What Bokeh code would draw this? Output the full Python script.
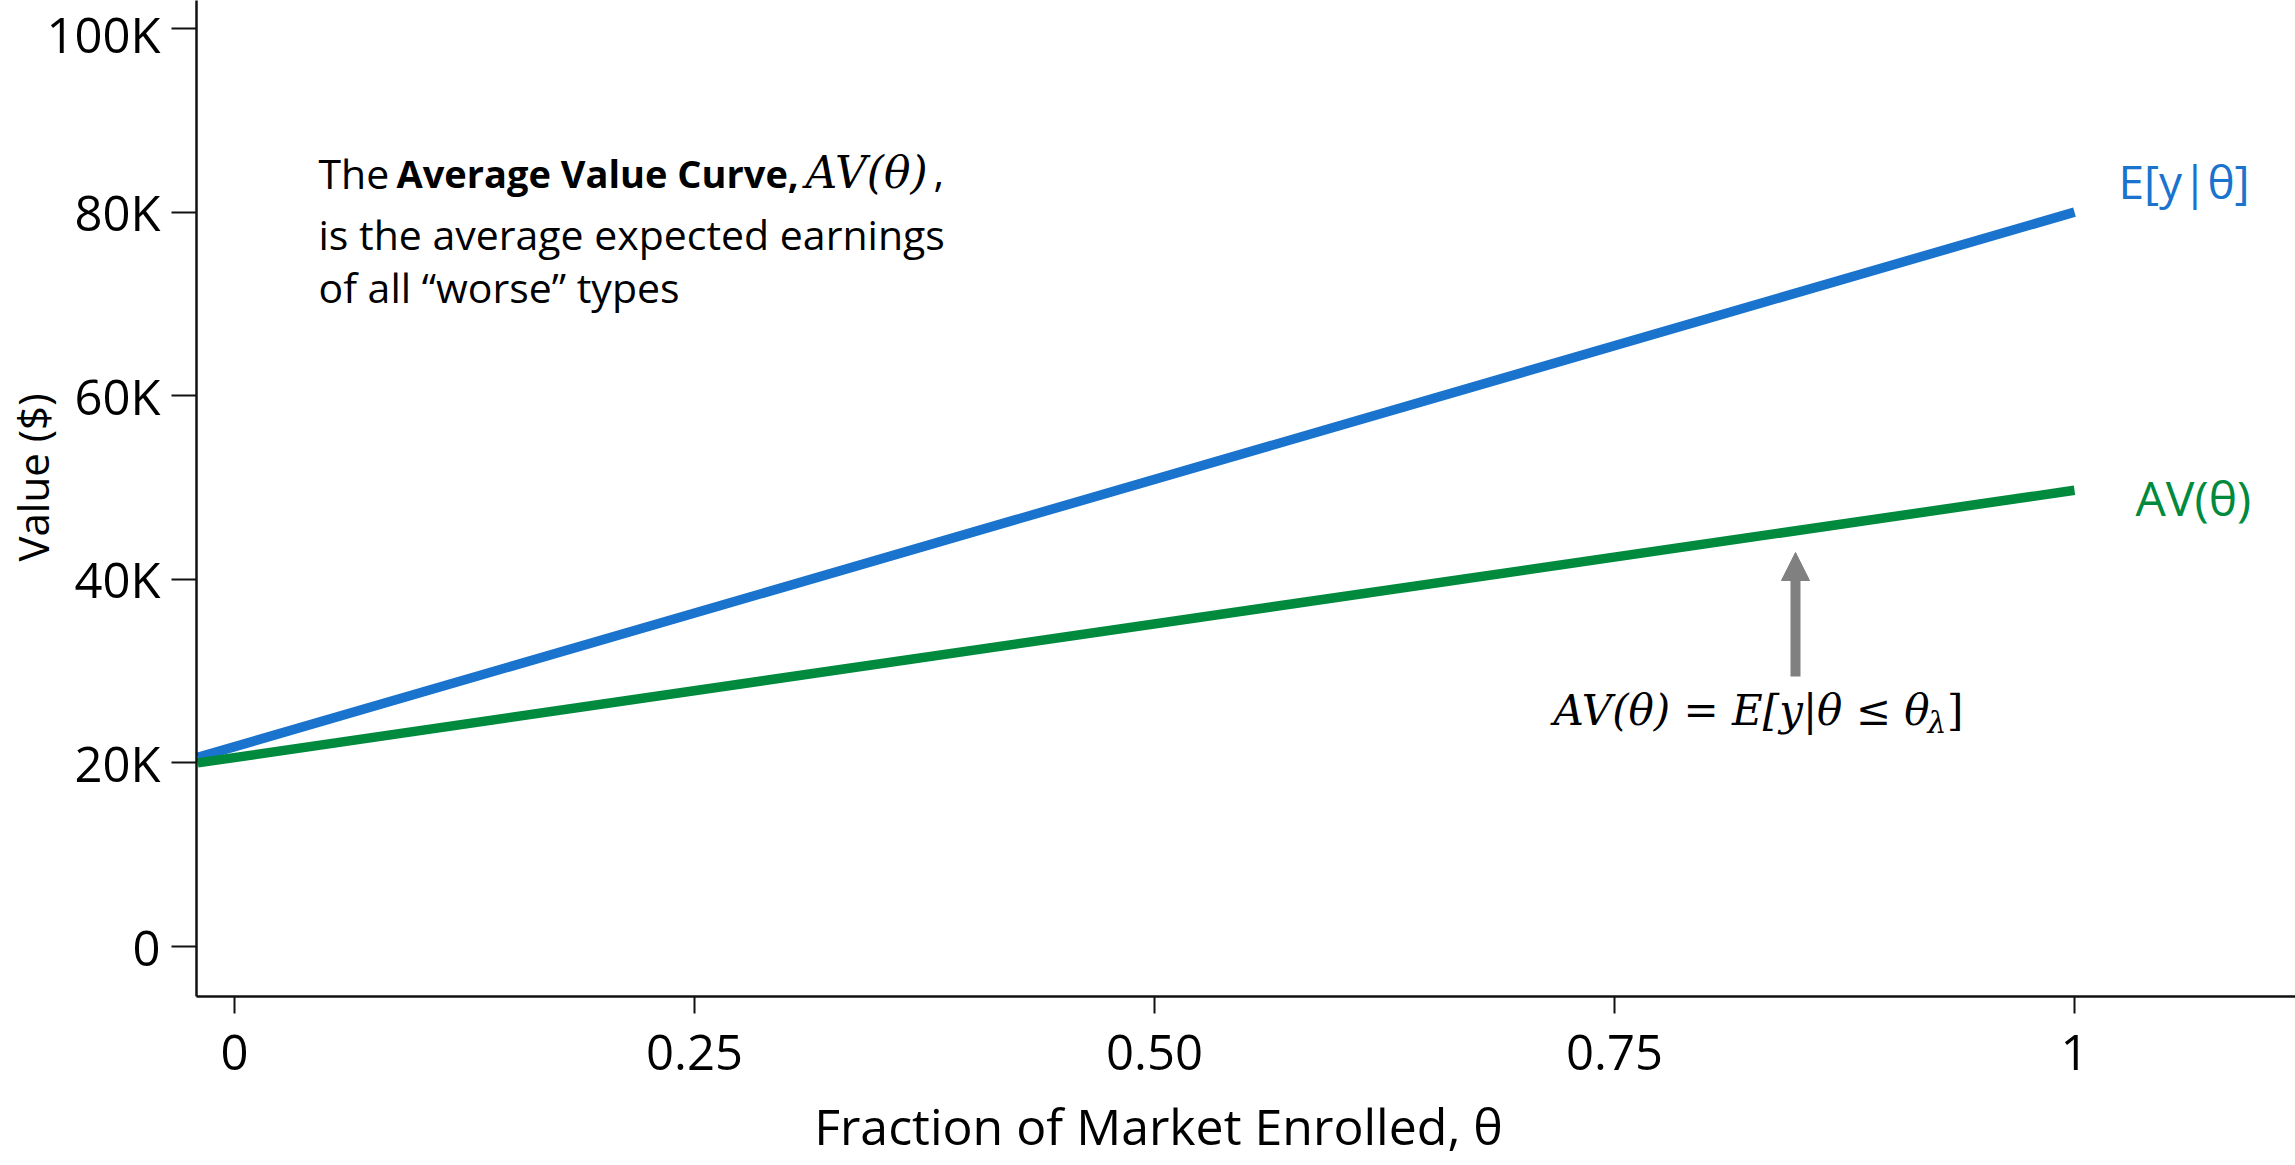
from bokeh.plotting import figure
from bokeh.models import Range1d, FixedTicker, Arrow, NormalHead
from bokeh.core.properties import value
from bokeh.embed import file_html
from bokeh.resources import INLINE

# ---- data ----
theta = [-0.02, 1.0]
expected_y = [20600, 80000]      # E[y|theta]
average_value = [20000, 49700]   # AV(theta)

x_ticks = [0, 0.25, 0.5, 0.75, 1]
x_tick_labels = ["0", "0.25", "0.50", "0.75", "1"]
y_ticks = [0, 20000, 40000, 60000, 80000, 100000]
y_tick_labels = ["0", "20K", "40K", "60K", "80K", "100K"]

BLUE = "#1a73cd"
GREEN = "#008a3e"
GRAY = "#808080"
SANS = "Open Sans"
SERIF = "DejaVu Serif"

# helpers: reference page pixels -> data coords (used for annotation placement only)
def px2x(px):
    return (px - 234) / 1840.0

def py2y(py):
    return (946 - py) / 0.00918

p = figure(width=2295, height=1165, output_backend="svg", toolbar_location=None,
           x_range=Range1d(px2x(196), px2x(2295)), y_range=Range1d(py2y(996), py2y(0)),
           min_border_left=196, min_border_right=0, min_border_top=0, min_border_bottom=169)
p.outline_line_color = None
p.xgrid.visible = False
p.ygrid.visible = False
p.background_fill_color = "white"
p.border_fill_color = "white"

for ax in (p.xaxis[0], p.yaxis[0]):
    ax.axis_line_width = 2.5
    ax.axis_line_color = "#111111"
    ax.major_tick_line_width = 2
    ax.major_tick_line_color = "#111111"
    ax.minor_tick_line_color = None
    ax.major_tick_in = 0
    ax.major_label_text_font = SANS
    ax.major_label_text_font_size = "49px"
    ax.major_label_text_color = "black"
    ax.axis_label_text_font = SANS
    ax.axis_label_text_font_style = "normal"
    ax.axis_label_text_color = "black"

p.xaxis.ticker = FixedTicker(ticks=x_ticks)
p.xaxis.major_label_overrides = dict(zip(x_ticks, x_tick_labels))
p.xaxis.major_tick_out = 17
p.xaxis.major_label_standoff = 21
# trailing em/en spaces shift the centred title left so it sits under θ = 0.5
p.xaxis.axis_label = "Fraction of Market Enrolled, θ" + "\u2003\u2003\u2003\u2002"
p.xaxis.axis_label_text_font_size = "50px"
p.xaxis.axis_label_standoff = 19

p.yaxis.ticker = FixedTicker(ticks=y_ticks)
p.yaxis.major_label_overrides = dict(zip(y_ticks, y_tick_labels))
p.yaxis.major_tick_out = 25
p.yaxis.major_label_standoff = 11
p.yaxis.axis_label = "\u2003Value ($)"
p.yaxis.axis_label_text_font_size = "42px"
p.yaxis.axis_label_standoff = -18

# curves
p.line(theta, expected_y, line_color=BLUE, line_width=9.5)
p.line(theta, average_value, line_color=GREEN, line_width=9.5)

# curve labels
p.text(x=[px2x(2118)], y=[py2y(180)], text=["E[y|θ]"], text_color=BLUE,
       text_font=value(SANS), text_font_size="46px", text_align="left", text_baseline="middle")
p.text(x=[px2x(2135)], y=[py2y(497)], text=["AV(θ)"], text_color=GREEN,
       text_font=value(SANS), text_font_size="48px", text_align="left", text_baseline="middle")

# explanatory text block
FS = "41px"
L1 = 172
p.text(x=[px2x(318)], y=[py2y(L1)], text=["The"], text_font=value(SANS), text_font_size=FS,
       text_baseline="middle", text_color="black")
p.text(x=[px2x(396)], y=[py2y(L1)], text=["Average Value Curve,"], text_font=value(SANS),
       text_font_size="38px", text_font_style="bold", text_baseline="middle", text_color="black")
p.text(x=[px2x(805)], y=[py2y(L1)], text=["AV(θ)"], text_font=value(SERIF), text_font_size="44px",
       text_font_style="italic", text_baseline="middle", text_color="black")
p.text(x=[px2x(933)], y=[py2y(L1)], text=[","], text_font=value(SANS), text_font_size=FS,
       text_baseline="middle", text_color="black")
p.text(x=[px2x(318)], y=[py2y(233)], text=["is the average expected earnings"], text_font=value(SANS),
       text_font_size=FS, text_baseline="middle", text_color="black")
p.text(x=[px2x(318)], y=[py2y(286)], text=["of all “worse” types"], text_font=value(SANS),
       text_font_size=FS, text_baseline="middle", text_color="black")

# arrow
p.add_layout(Arrow(end=NormalHead(size=28, fill_color=GRAY, line_color=GRAY, line_width=1),
                   x_start=px2x(1795), y_start=py2y(676), x_end=px2x(1795), y_end=py2y(552),
                   line_color=GRAY, line_width=10))

# formula AV(θ) = E[y|θ ≤ θ_λ]
p.text(x=[px2x(1963)], y=[py2y(710)], text=["]"], text_font=value(SERIF), text_font_size="42px",
       text_align="right", text_baseline="middle", text_color="black")
p.text(x=[px2x(1946)], y=[py2y(722)], text=["λ"], text_font=value(SERIF), text_font_size="30px",
       text_font_style="italic", text_align="right", text_baseline="middle", text_color="black")
p.text(x=[px2x(1929)], y=[py2y(710)], text=["AV(θ) = E[y|θ ≤ θ"], text_font=value(SERIF),
       text_font_size="42px", text_font_style="italic", text_align="right", text_baseline="middle",
       text_color="black")

open("out.html", "w").write(file_html(p, INLINE))
